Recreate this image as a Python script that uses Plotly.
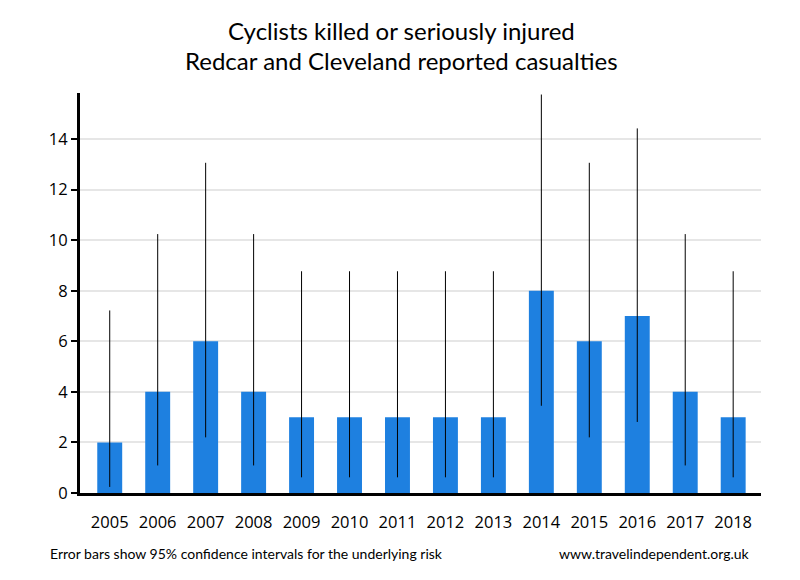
import plotly.graph_objects as go

years = ["2005", "2006", "2007", "2008", "2009", "2010", "2011",
         "2012", "2013", "2014", "2015", "2016", "2017", "2018"]
casualties = [2, 4, 6, 4, 3, 3, 3, 3, 3, 8, 6, 7, 4, 3]
ci_lower = [0.24, 1.09, 2.20, 1.09, 0.62, 0.62, 0.62, 0.62, 0.62, 3.45, 2.20, 2.81, 1.09, 0.62]
ci_upper = [7.22, 10.24, 13.06, 10.24, 8.77, 8.77, 8.77, 8.77, 8.77, 15.76, 13.06, 14.42, 10.24, 8.77]

err_plus = [u - v for u, v in zip(ci_upper, casualties)]
err_minus = [v - l for v, l in zip(casualties, ci_lower)]

fig = go.Figure()
fig.add_trace(go.Bar(
    x=years, y=casualties,
    marker=dict(color="#1e80e0", line=dict(width=0)),
    width=0.52,
    error_y=dict(type="data", symmetric=False, array=err_plus, arrayminus=err_minus,
                 color="black", thickness=1, width=0),
))

title_font = dict(family="Lato", size=24, color="black")
note_font = dict(family="Lato", size=14, color="black")

fig.update_layout(
    width=800, height=580,
    margin=dict(l=72, r=47, t=85, b=95),
    paper_bgcolor="white", plot_bgcolor="white",
    showlegend=False,
    font=dict(family="Open Sans", color="black"),
    xaxis=dict(type="category", range=[-0.62, 13.58], showgrid=False,
               showline=True, linecolor="black", linewidth=3,
               ticks="", tickfont=dict(size=16.5), ticklabelstandoff=12,
               zeroline=False, fixedrange=True),
    yaxis=dict(range=[0, 15.82], tickvals=[0, 2, 4, 6, 8, 10, 12, 14],
               showgrid=True, gridcolor="#e6e6e6", gridwidth=2,
               showline=True, linecolor="black", linewidth=3,
               ticks="outside", ticklen=6, tickwidth=2, tickcolor="black",
               tickfont=dict(size=16.5), zeroline=False, fixedrange=True),
    annotations=[
        dict(text="Cyclists killed or seriously injured",
             xref="paper", yref="paper", x=0.4714, y=1.155, xanchor="center", yanchor="middle",
             showarrow=False, font=title_font),
        dict(text="Redcar and Cleveland reported casualties",
             xref="paper", yref="paper", x=0.4714, y=1.08, xanchor="center", yanchor="middle",
             showarrow=False, font=title_font),
        dict(text="Error bars show 95% confidence intervals for the underlying risk",
             xref="paper", yref="paper", x=-0.047, y=-0.15, xanchor="left", yanchor="middle",
             showarrow=False, font=note_font),
        dict(text="www.travelindependent.org.uk",
             xref="paper", yref="paper", x=0.987, y=-0.15, xanchor="right", yanchor="middle",
             showarrow=False, font=note_font),
    ],
)

fig.write_html("out.html")
